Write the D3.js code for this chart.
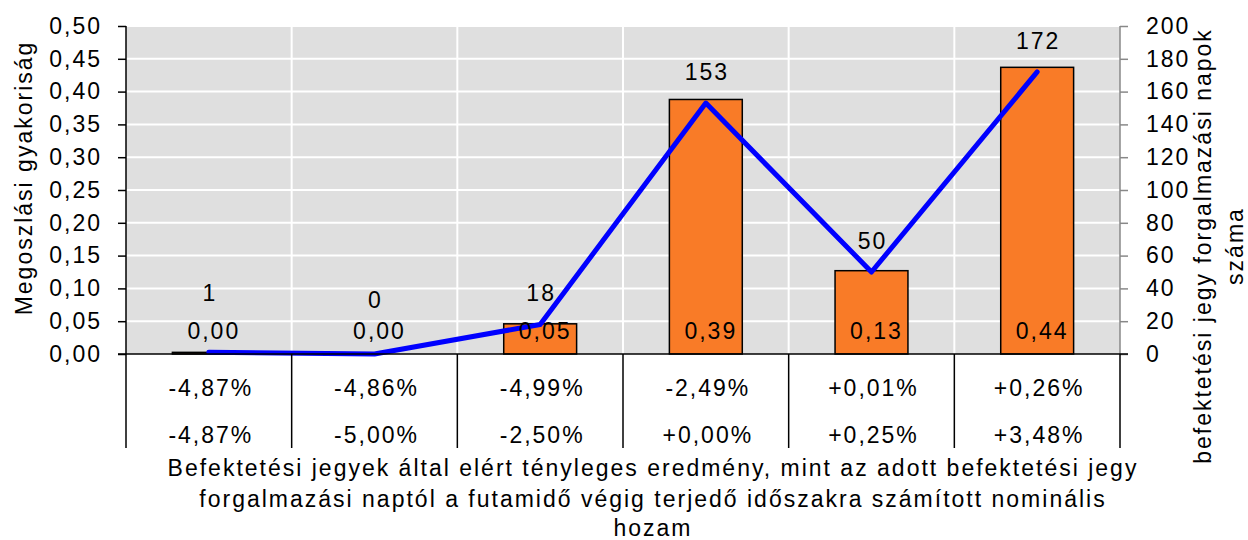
<!DOCTYPE html>
<html>
<head>
<meta charset="utf-8">
<script src="https://cdn.jsdelivr.net/npm/d3@7"></script>
<style>
  html, body { margin: 0; padding: 0; background: #fff; }
  svg text { font-family: "Liberation Sans", Arial, sans-serif; fill: #000; }
</style>
</head>
<body>
<svg id="chart" width="1248" height="540"></svg>
<script>
// ---- data ----
const categories = ["c1", "c2", "c3", "c4", "c5", "c6"];
const rowTop = ["-4,87%", "-4,86%", "-4,99%", "-2,49%", "+0,01%", "+0,26%"];
const rowBottom = ["-4,87%", "-5,00%", "-2,50%", "+0,00%", "+0,25%", "+3,48%"];
const shares = [0.0025, 0.0, 0.046, 0.388, 0.127, 0.437];
const counts = [1, 0, 18, 153, 50, 172];
const leftTicks = [0, 0.05, 0.10, 0.15, 0.20, 0.25, 0.30, 0.35, 0.40, 0.45, 0.50];
const rightTicks = [0, 20, 40, 60, 80, 100, 120, 140, 160, 180, 200];
const leftTitle = "Megoszlási gyakoriság";
const rightTitle = ["befektetési jegy forgalmazási napok", "száma"];
const xTitle = [
  "Befektetési jegyek által elért tényleges eredmény, mint az adott befektetési jegy",
  "forgalmazási naptól a futamidő végig terjedő időszakra számított nominális",
  "hozam"
];

// ---- layout ----
const L = 126, R = 1120, T = 26, B = 354;
const FS = 23, LS = 2;
const svg = d3.select("#chart");
const loc = d3.formatLocale({decimal: ",", thousands: " ", grouping: [3], currency: ["", ""]});
const f2 = loc.format(".2f");

const x = d3.scaleBand().domain(categories).range([L, R]).paddingInner(0).paddingOuter(0);
const yL = d3.scaleLinear().domain([0, 0.5]).range([B, T]);
const yR = d3.scaleLinear().domain([0, 200]).range([B, T]);

// plot background
svg.append("rect").attr("x", L).attr("y", T).attr("width", R - L).attr("height", B - T).attr("fill", "#DFDFDF");

// grid
svg.append("g").selectAll("line").data(leftTicks.slice(1)).join("line")
  .attr("x1", L).attr("x2", R).attr("y1", d => yL(d)).attr("y2", d => yL(d))
  .attr("stroke", "#fff").attr("stroke-width", 2);
svg.append("g").selectAll("line").data(categories.slice(1)).join("line")
  .attr("x1", d => x(d)).attr("x2", d => x(d)).attr("y1", T).attr("y2", B)
  .attr("stroke", "#fff").attr("stroke-width", 2);

// bars
const bw = x.bandwidth() * 0.44;
svg.append("g").selectAll("rect").data(shares).join("rect")
  .attr("x", (d, i) => x(categories[i]) + x.bandwidth() / 2 - bw / 2)
  .attr("y", d => yL(d))
  .attr("width", bw)
  .attr("height", d => B - yL(d))
  .attr("fill", "#F97B27")
  .attr("stroke", "#000").attr("stroke-width", 1.5);

// left axis
const gl = svg.append("g").attr("transform", `translate(${L},0)`)
  .call(d3.axisLeft(yL).tickValues(leftTicks).tickFormat(f2).tickSize(8).tickPadding(16));
gl.selectAll("path,line").attr("stroke", "#000").attr("stroke-width", 1.5);
gl.select(".domain").attr("d", `M0,${T}V${B}`);
gl.selectAll("text").attr("font-size", FS).attr("letter-spacing", LS).attr("font-family", null).attr("fill", "#000");

// right axis
const gr = svg.append("g").attr("transform", `translate(${R},0)`)
  .call(d3.axisRight(yR).tickValues(rightTicks).tickSize(8).tickPadding(18));
gr.selectAll("path,line").attr("stroke", "#888").attr("stroke-width", 1.5);
gr.select(".domain").attr("d", `M0,${T}V${B}`);
gr.selectAll("text").attr("font-size", FS).attr("letter-spacing", LS).attr("font-family", null).attr("fill", "#000");

// line
const line = d3.line()
  .x((d, i) => x(categories[i]) + x.bandwidth() / 2)
  .y(d => yR(d));
svg.append("path").datum(counts).attr("d", line)
  .attr("fill", "none").attr("stroke", "#0000FF").attr("stroke-width", 5)
  .attr("stroke-linejoin", "round").attr("stroke-linecap", "round");

// x axis line and table
svg.append("line").attr("x1", L - 8).attr("x2", R + 8).attr("y1", B).attr("y2", B)
  .attr("stroke", "#000").attr("stroke-width", 1.5);
const bounds = categories.map(c => x(c)).concat([R]);
svg.append("g").selectAll("line").data(bounds).join("line")
  .attr("x1", d => d).attr("x2", d => d).attr("y1", B).attr("y2", 448)
  .attr("stroke", "#000").attr("stroke-width", 1.5);

function label(g, data, xf, yf) {
  return g.selectAll("text").data(data).join("text")
    .attr("x", xf).attr("y", yf)
    .attr("text-anchor", "middle").attr("dominant-baseline", "central")
    .attr("font-size", FS).attr("letter-spacing", LS)
    .text(d => d);
}
const cx = i => x(categories[i]) + x.bandwidth() / 2;
label(svg.append("g"), rowTop, (d, i) => cx(i) + 2, 388);
label(svg.append("g"), rowBottom, (d, i) => cx(i) + 2, 435);

// bar value labels
label(svg.append("g"), shares.map(f2), (d, i) => cx(i) + 5, 331);

// count labels
const lift = [59, 54, 31, 31, 31, 31];
label(svg.append("g"), counts, (d, i) => cx(i) + 1, (d, i) => yR(d) - lift[i]);

// titles
svg.append("text").attr("transform", "translate(24,178) rotate(-90)")
  .attr("text-anchor", "middle").attr("dominant-baseline", "central")
  .attr("font-size", FS).attr("letter-spacing", LS).text(leftTitle);
svg.append("g").selectAll("text").data(rightTitle).join("text")
  .attr("transform", (d, i) => `translate(${1203 + i * 32},246) rotate(-90)`)
  .attr("text-anchor", "middle").attr("dominant-baseline", "central")
  .attr("font-size", FS).attr("letter-spacing", LS).text(d => d);
svg.append("g").selectAll("text").data(xTitle).join("text")
  .attr("x", 653).attr("y", (d, i) => [468, 499, 528][i])
  .attr("text-anchor", "middle").attr("dominant-baseline", "central")
  .attr("font-size", FS).attr("letter-spacing", LS).text(d => d);
</script>
</body>
</html>
